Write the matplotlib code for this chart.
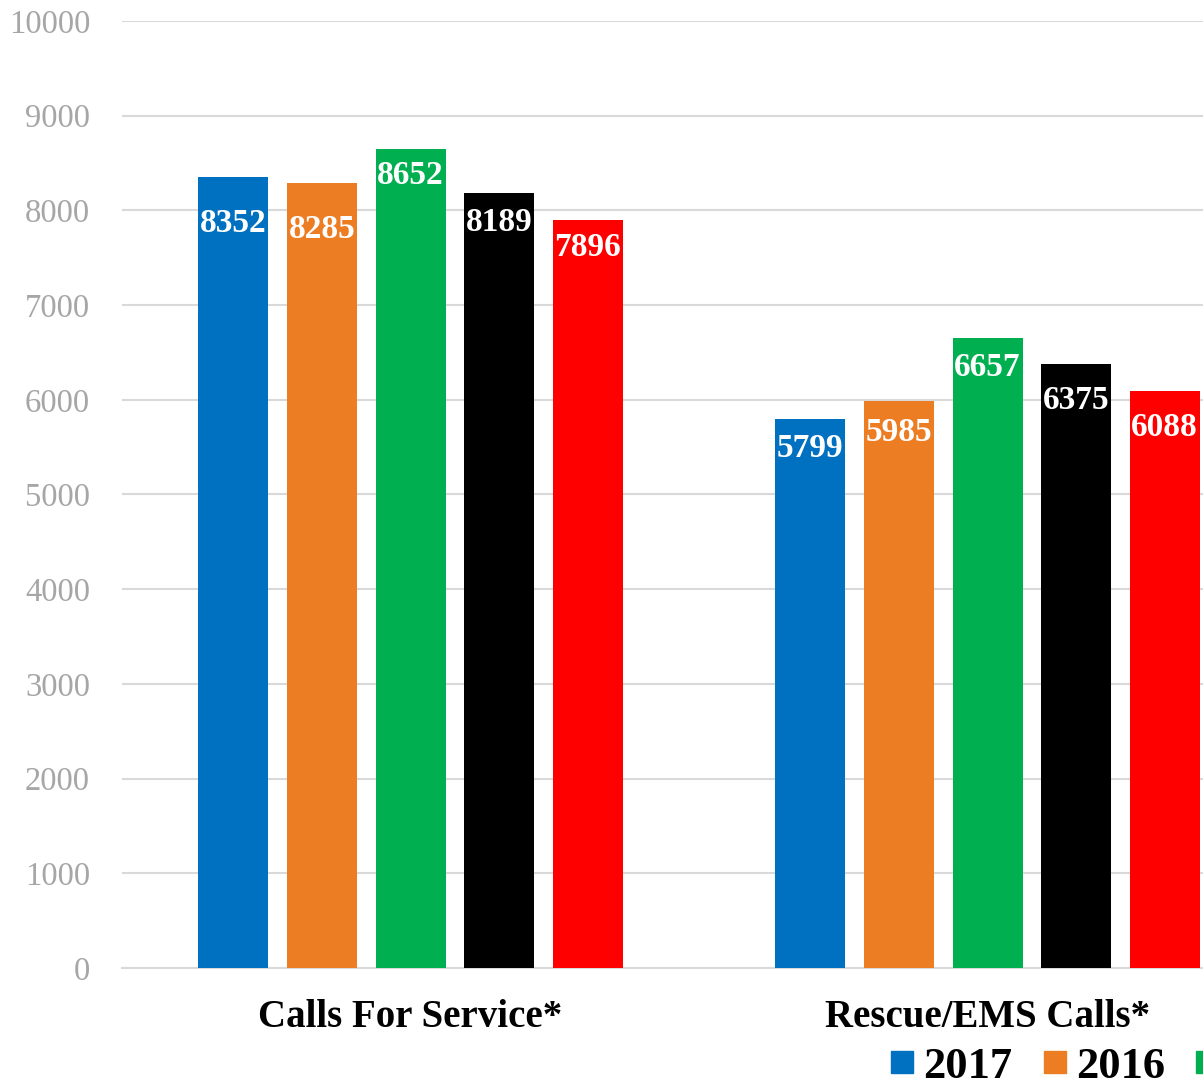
import matplotlib
matplotlib.use("Agg")
import matplotlib.pyplot as plt
from matplotlib.lines import Line2D
import numpy as np

categories = ["Calls For Service*", "Rescue/EMS Calls*"]
years = ["2017", "2016", "2015", "2014", "2013"]
values = {
    "2017": [8352, 5799],
    "2016": [8285, 5985],
    "2015": [8652, 6657],
    "2014": [8189, 6375],
    "2013": [7896, 6088],
}
colors = ["#0070C0", "#ED7D22", "#00B050", "#000000", "#FF0000"]
yticks = list(range(0, 10001, 1000))
# label drop below bar top (px), per series, per category (style only)
label_drop = {
    "2017": [46, 30],
    "2016": [46, 31],
    "2015": [27, 30],
    "2014": [30, 36],
    "2013": [27, 36],
}

plt.rcParams['font.family'] = ['Liberation Serif', 'DejaVu Serif']

W, H = 1203, 1089
fig = plt.figure(figsize=(W / 100, H / 100), dpi=100)
left_px, right_px = 122, 1276
bot_px, top_px = 968, 21
ax = fig.add_axes([left_px / W, 1 - bot_px / H, (right_px - left_px) / W, (bot_px - top_px) / H])

x = np.arange(len(categories))
bw = 70 / 577
step = 88.6 / 577
for i, (yr, c) in enumerate(zip(years, colors)):
    xs = x + (i - 2) * step
    bars = ax.bar(xs, values[yr], width=bw, color=c, zorder=3)
    for b, v, d in zip(bars, values[yr], label_drop[yr]):
        ax.annotate(str(v), (b.get_x() + b.get_width() / 2, v), xytext=(0, -d * 0.72),
                    textcoords='offset points', ha='center', va='center',
                    color='white', fontsize=24, fontweight='bold', zorder=4)

ax.set_xlim(-0.5, 1.5)
ax.set_ylim(0, 10000)
ax.set_yticks(yticks)
ax.set_yticklabels([str(t) for t in yticks], fontsize=23.5, color='#A6A6A6')
ax.grid(axis='y', color='#D9D9D9', linewidth=1.5, zorder=0)
for s in ['top', 'right', 'left']:
    ax.spines[s].set_visible(False)
ax.spines['bottom'].set_color('#D9D9D9')
ax.spines['bottom'].set_linewidth(1.5)
ax.tick_params(axis='y', length=0, pad=23)
ax.tick_params(axis='x', length=0, pad=22)
ax.set_xticks(x)
ax.set_xticklabels(categories, fontsize=28, fontweight='bold')

handles = [Line2D([], [], marker='s', linestyle='none', markersize=16, color=c) for c in colors]
fig.legend(handles, years, loc='center left', bbox_to_anchor=(890 / W, 1 - 1067 / H),
           ncol=5, frameon=False, prop={'size': 32, 'weight': 'bold'},
           handlelength=0.55, handletextpad=0.2, columnspacing=0.68, borderpad=0, borderaxespad=0)

fig.savefig("out.png", dpi=100)
